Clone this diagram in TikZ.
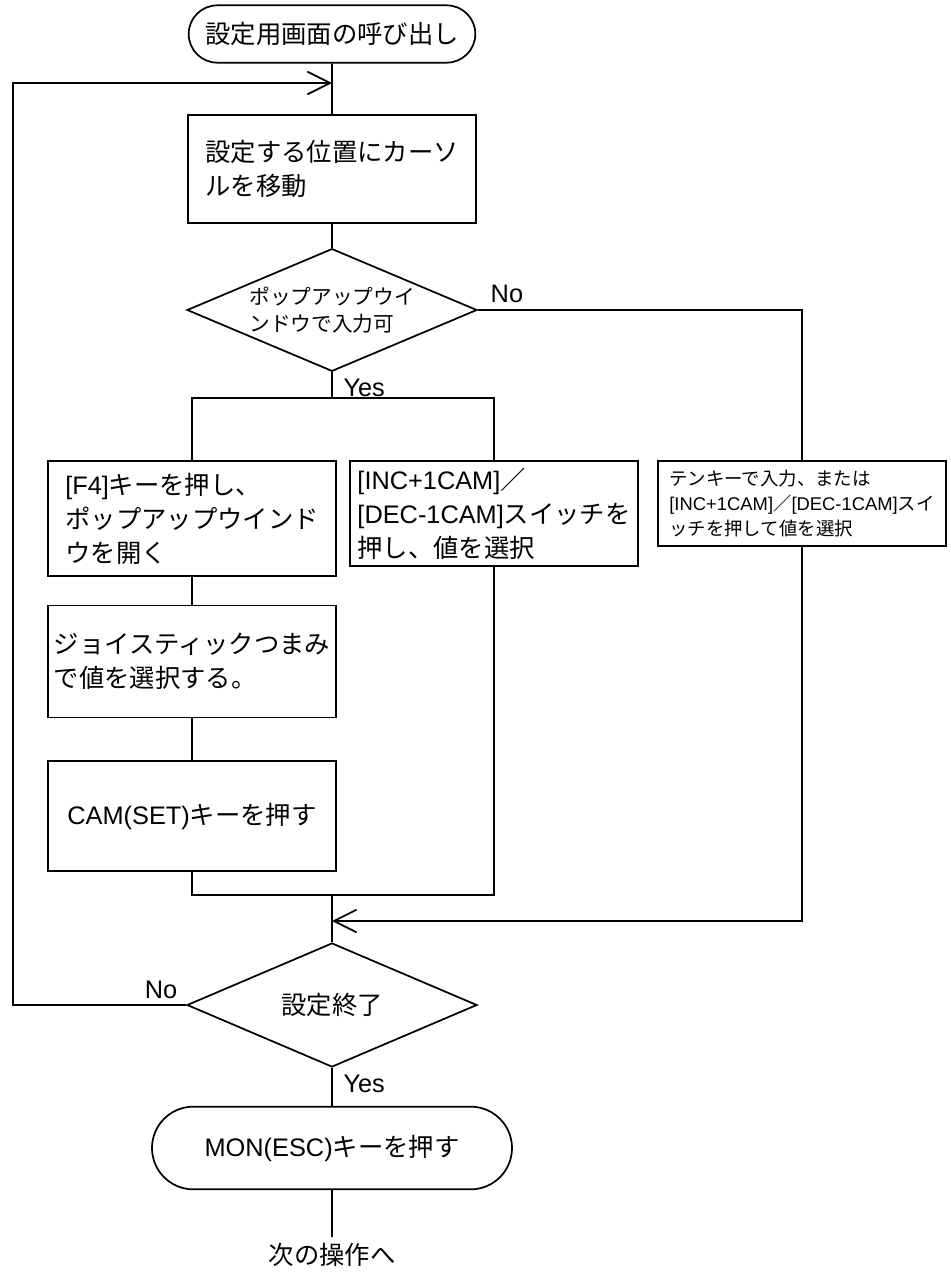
\documentclass[tikz,border=0pt]{standalone}
\usepackage{fontspec}
\setmainfont{Noto Sans CJK JP}
\newfontfamily\latinfont{Liberation Sans}
\newcommand{\latn}[1]{{\latinfont #1}}
\usetikzlibrary{arrows.meta, positioning, shapes.geometric, shapes.misc}

\begin{document}
\begin{tikzpicture}[x=0.75pt, y=-0.75pt, line width=1.3pt,
      >={Straight Barb[length=17pt, width=17pt]},
      term/.style={draw, rounded rectangle, minimum width=215pt, minimum height=43pt,
                   font=\fontsize{19pt}{25pt}\selectfont, inner sep=0pt},
      proc/.style={draw, rectangle, minimum width=216pt, align=left,
                   font=\fontsize{19pt}{25.5pt}\selectfont, inner sep=0pt},
      dec/.style={draw, diamond, shape aspect=2.36, inner sep=0pt, align=left},
      lbl/.style={font=\fontsize{19pt}{23pt}\selectfont\latinfont, inner sep=0pt}]

    \useasboundingbox (0,0) rectangle (950,1280);

    \node[term] (start) at (332,34) {設定用画面の呼び出し};
    \node[proc, minimum height=81pt] (move) at (332,169) {設定する位置にカーソ\\ルを移動};
    \node[dec, minimum width=217.5pt, minimum height=92pt,
          font=\fontsize{15.5pt}{20pt}\selectfont] (popup) at (332,310)
          {ポップアップウイ\\ンドウで入力可};

    % popup branch
    \node[proc, minimum height=86.6pt, anchor=north] (open) at (192,460)
          {\latn{[F4]}キーを押し、\\ポップアップウインド\\ウを開く};
    \node[proc, minimum height=84pt, below=20.6pt of open] (joy)
          {ジョイスティックつまみ\\で値を選択する。};
    \node[proc, minimum height=82.5pt, below=31.5pt of joy, align=center] (camset)
          {\latn{CAM(SET)}キーを押す};

    % switch branch
    \node[proc, minimum height=79pt, anchor=north] (incdec) at (494,460)
          {\latn{[INC+1CAM]}／\\\latn{[DEC-1CAM]}スイッチを\\押し、値を選択};

    % ten key branch
    \node[proc, minimum height=64pt, anchor=north,
          font=\fontsize{13.8pt}{19pt}\selectfont] (tenkey) at (802,460)
          {テンキーで入力、または\\\latn{[INC+1CAM]}／\latn{[DEC-1CAM]}スイ\\ッチを押して値を選択};

    \node[dec, minimum width=217.5pt, minimum height=93pt, align=center,
          font=\fontsize{19pt}{23pt}\selectfont] (done) at (332,1005) {設定終了};
    \node[term, minimum width=270pt, minimum height=62pt] (esc) at (332,1148)
          {\latn{MON(ESC)}キーを押す};
    \node[font=\fontsize{19pt}{23pt}\selectfont, inner sep=4pt] (next) at (332,1255) {次の操作へ};

    \coordinate (loopin) at (332,83);
    \coordinate (loopleft) at (13,83);
    \coordinate (split) at (332,398);
    \coordinate (join) at (332,895);
    \coordinate (back) at (332,921);

    \draw (start) -- (move);
    \draw (move) -- (popup);
    \draw (popup) -- (split);
    \draw (split) -| (open);
    \draw (split) -| (incdec);
    \draw (popup.east) -| (tenkey);
    \draw (open) -- (joy);
    \draw (joy) -- (camset);
    \draw (camset) |- (join);
    \draw (incdec) |- (join);
    \draw[->] (tenkey) |- (back);
    \draw (join) -- (done);
    \draw[->] (done.west) -| (loopleft) -- (loopin);
    \draw (done) -- (esc);
    \draw (esc) -- (next);

    % Yes / No
    \node[lbl, anchor=south west, xshift=9pt, yshift=4.5pt] at (popup.east) {No};
    \node[lbl, anchor=north west, xshift=8pt, yshift=-4.5pt] at (popup.south) {Yes};
    \node[lbl, anchor=south east, xshift=-6pt, yshift=4pt] at (done.west) {No};
    \node[lbl, anchor=north west, xshift=8pt, yshift=-4.5pt] at (done.south) {Yes};
\end{tikzpicture}
\end{document}
